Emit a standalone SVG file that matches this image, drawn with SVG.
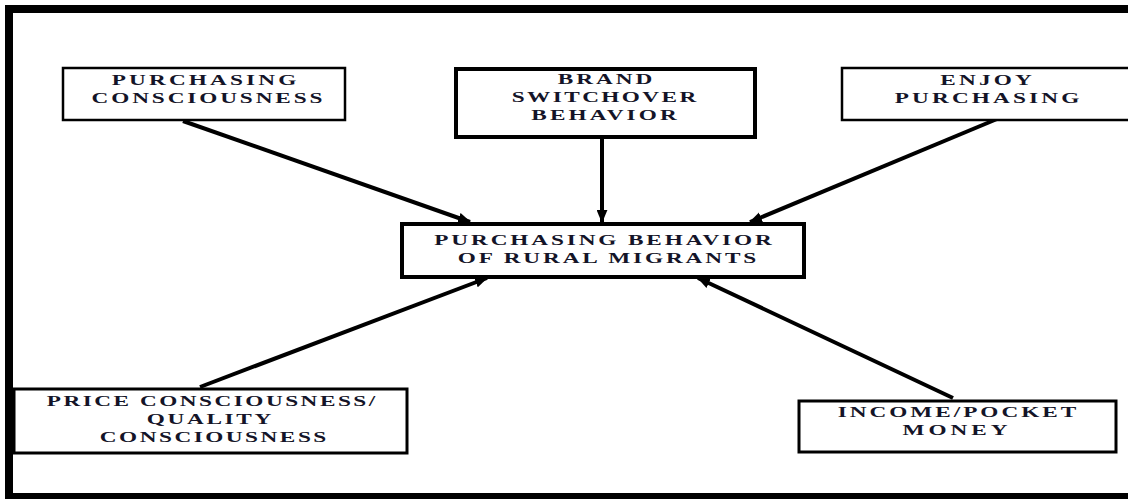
<svg xmlns="http://www.w3.org/2000/svg" width="1128" height="499" viewBox="0 0 1128 499">
  <defs>
    <marker id="ah" viewBox="0 0 12 10" refX="11" refY="5" markerWidth="13" markerHeight="11" markerUnits="userSpaceOnUse" orient="auto">
      <path d="M0,0 L12,5 L0,10 Z" fill="#000"/>
    </marker>
    <style>
      .box { fill: #fff; stroke: #000; }
      .t { font-family: "Liberation Serif", "Times New Roman", serif; font-weight: bold; font-size: 15.5px; fill: #141428; text-anchor: middle; }
      .c { stroke: #000; stroke-width: 4; fill: none; marker-end: url(#ah); }
    </style>
  </defs>
  <rect x="0" y="0" width="1128" height="499" fill="#fff"/>
  <rect id="frame" x="9" y="9" width="1130" height="488" fill="none" stroke="#000" stroke-width="8"/>

  <g id="connectors">
    <line class="c" x1="183" y1="121" x2="470" y2="222"/>
    <line class="c" x1="602" y1="138" x2="602" y2="222" stroke-width="5"/>
    <line class="c" x1="997" y1="119" x2="750" y2="222"/>
    <line class="c" x1="200" y1="387" x2="487" y2="278"/>
    <line class="c" x1="953" y1="398" x2="698" y2="278"/>
  </g>

  <g id="purchasing-consciousness">
    <rect class="box" x="63" y="68" width="282" height="52" stroke-width="2.5"/>
    <text class="t" transform="translate(204,85) scale(1.5,1)" textLength="123" lengthAdjust="spacing">PURCHASING</text>
    <text class="t" transform="translate(207,103) scale(1.5,1)" textLength="154" lengthAdjust="spacing">CONSCIOUSNESS</text>
  </g>

  <g id="brand-switchover">
    <rect class="box" x="456" y="69" width="299" height="68" stroke-width="4"/>
    <text class="t" transform="translate(605,84) scale(1.5,1)" textLength="63" lengthAdjust="spacing">BRAND</text>
    <text class="t" transform="translate(604,102) scale(1.5,1)" textLength="123" lengthAdjust="spacing">SWITCHOVER</text>
    <text class="t" transform="translate(604,120) scale(1.5,1)" textLength="97" lengthAdjust="spacing">BEHAVIOR</text>
  </g>

  <g id="enjoy-purchasing">
    <rect class="box" x="842" y="68" width="300" height="52" stroke-width="2.5"/>
    <text class="t" transform="translate(986,85) scale(1.5,1)" textLength="61" lengthAdjust="spacing">ENJOY</text>
    <text class="t" transform="translate(987,103) scale(1.5,1)" textLength="123" lengthAdjust="spacing">PURCHASING</text>
  </g>

  <g id="central">
    <rect class="box" x="402" y="224" width="402" height="53" stroke-width="4"/>
    <text class="t" transform="translate(603,245) scale(1.5,1)" textLength="225" lengthAdjust="spacing">PURCHASING BEHAVIOR</text>
    <text class="t" transform="translate(607,263) scale(1.5,1)" textLength="199" lengthAdjust="spacing">OF RURAL MIGRANTS</text>
  </g>

  <g id="price-quality">
    <rect class="box" x="14" y="389" width="393" height="64" stroke-width="3"/>
    <text class="t" transform="translate(211,406) scale(1.5,1)" textLength="219" lengthAdjust="spacing">PRICE CONSCIOUSNESS/</text>
    <text class="t" transform="translate(209,424) scale(1.5,1)" textLength="83" lengthAdjust="spacing">QUALITY</text>
    <text class="t" transform="translate(213,442) scale(1.5,1)" textLength="151" lengthAdjust="spacing">CONSCIOUSNESS</text>
  </g>

  <g id="income">
    <rect class="box" x="799" y="401" width="317" height="51" stroke-width="3"/>
    <text class="t" transform="translate(957,417) scale(1.5,1)" textLength="159" lengthAdjust="spacing">INCOME/POCKET</text>
    <text class="t" transform="translate(955,435) scale(1.5,1)" textLength="70" lengthAdjust="spacing">MONEY</text>
  </g>
</svg>
